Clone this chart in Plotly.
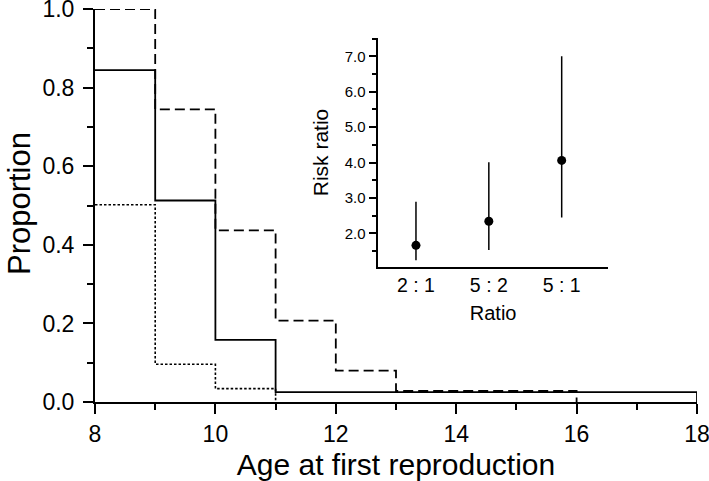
import plotly.graph_objects as go

# Main panel data: proportion by age at first reproduction (step curves)
age_solid = [8, 9, 10, 11, 18]
prop_solid = [0.845, 0.513, 0.158, 0.025, 0.0]

age_dashed = [8, 9, 10, 11, 12, 13, 16]
prop_dashed = [1.0, 0.745, 0.437, 0.207, 0.080, 0.028, 0.0]

age_dotted = [8, 9, 10, 11]
prop_dotted = [0.502, 0.096, 0.034, 0.0]

# Inset data: risk ratios with intervals
ratio_labels = ["2 : 1", "5 : 2", "5 : 1"]
ratio_pos = [0, 1, 2]
risk_ratio = [1.66, 2.34, 4.06]
rr_upper = [2.89, 4.01, 7.0]
rr_lower = [1.24, 1.53, 2.45]

FONT = "Liberation Sans, Arial, Helvetica, sans-serif"

fig = go.Figure()

fig.add_trace(go.Scatter(x=age_dashed, y=prop_dashed, mode="lines", line_shape="hv",
                         line=dict(color="black", width=1.8, dash="10px,5px"),
                         cliponaxis=False, showlegend=False))
fig.add_trace(go.Scatter(x=age_solid, y=prop_solid, mode="lines", line_shape="hv",
                         line=dict(color="black", width=1.8),
                         cliponaxis=False, showlegend=False))
fig.add_trace(go.Scatter(x=age_dotted, y=prop_dotted, mode="lines", line_shape="hv",
                         line=dict(color="black", width=1.6, dash="2.5px,2px"),
                         cliponaxis=False, showlegend=False))

err_plus = [u - r for u, r in zip(rr_upper, risk_ratio)]
err_minus = [r - l for r, l in zip(risk_ratio, rr_lower)]
fig.add_trace(go.Scatter(x=ratio_pos, y=risk_ratio, mode="markers", xaxis="x2", yaxis="y2",
                         marker=dict(color="black", size=9),
                         error_y=dict(type="data", array=err_plus, arrayminus=err_minus,
                                      width=0, thickness=1.5, color="black"),
                         showlegend=False))

fig.update_layout(
    width=709, height=481,
    margin=dict(l=95, r=12, t=9, b=79),
    paper_bgcolor="white", plot_bgcolor="white",
    font=dict(family=FONT, color="black"),
    xaxis=dict(range=[8, 18], tickvals=[8, 10, 12, 14, 16, 18], showgrid=False, zeroline=False,
               automargin=False, ticklabeloverflow="allow",
               showline=True, linecolor="black", linewidth=2,
               ticks="outside", ticklen=10, tickwidth=2, tickcolor="black",
               minor=dict(dtick=1, tick0=8, ticks="outside", ticklen=6, tickwidth=2, tickcolor="black"),
               tickfont=dict(size=23),
               title=dict(text="Age at first reproduction", font=dict(size=30), standoff=8)),
    yaxis=dict(range=[0, 1.0005], tickvals=[0, 0.2, 0.4, 0.6, 0.8, 1.0], tickformat=".1f",
               showgrid=False, zeroline=False, automargin=False, ticklabeloverflow="allow",
               ticklabelstandoff=4,
               showline=True, linecolor="black", linewidth=2,
               ticks="outside", ticklen=10, tickwidth=2, tickcolor="black",
               minor=dict(dtick=0.1, tick0=0, ticks="outside", ticklen=6, tickwidth=2, tickcolor="black"),
               tickfont=dict(size=23)),
    xaxis2=dict(domain=[0.4706, 0.8522], anchor="y2", range=[-0.517, 2.636],
                tickvals=ratio_pos, ticktext=ratio_labels, ticks="", automargin=False,
                showgrid=False, zeroline=False, showline=True, linecolor="black", linewidth=1.5,
                tickfont=dict(size=19.5),
                title=dict(text="Ratio", font=dict(size=20), standoff=11)),
    yaxis2=dict(domain=[0.3443, 0.9254], anchor="x2", range=[1.057, 7.508],
                tickvals=[2, 3, 4, 5, 6, 7], tickformat=".1f", automargin=False,
                showgrid=False, zeroline=False, showline=True, linecolor="black", linewidth=1.5,
                ticks="outside", ticklen=8, tickwidth=1.5, tickcolor="black",
                minor=dict(dtick=0.5, tick0=0, ticks="outside", ticklen=5, tickwidth=1.5, tickcolor="black"),
                tickfont=dict(size=15),
                title=dict(text="Risk ratio", font=dict(size=21), standoff=10)),
    annotations=[dict(text="Proportion", textangle=-90, xref="paper", yref="paper",
                      x=-0.1578, y=0.505, xanchor="left", yanchor="middle", showarrow=False,
                      font=dict(size=31))],
)

fig.write_html("out.html", config={"displayModeBar": False},
               post_script="document.body.style.margin='0';document.body.style.padding='0';")
